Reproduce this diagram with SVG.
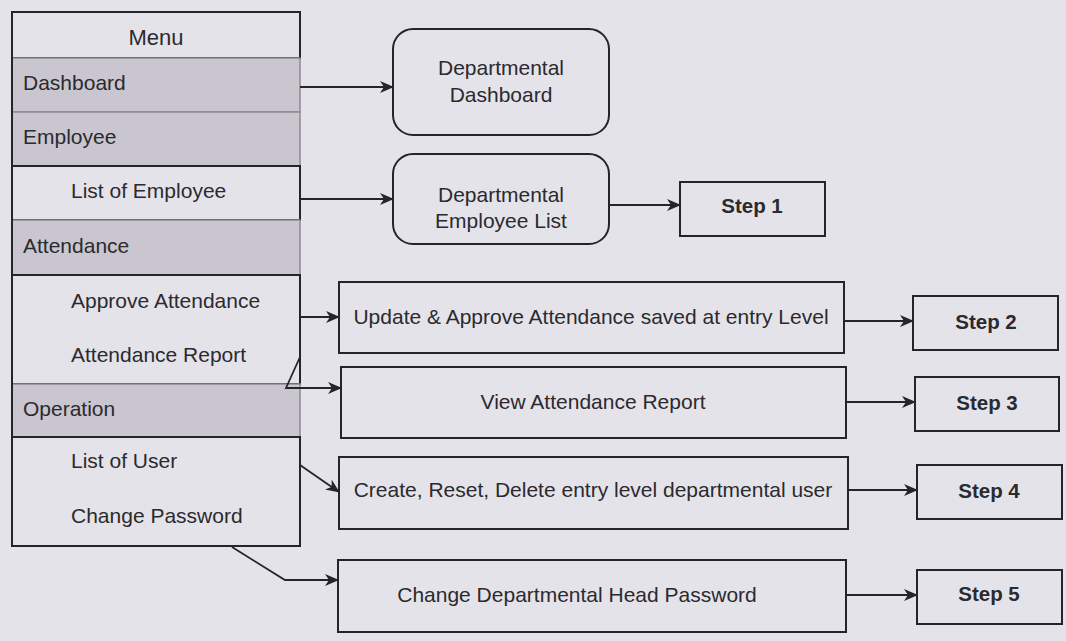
<svg xmlns="http://www.w3.org/2000/svg" width="1066" height="641" viewBox="0 0 1066 641">
  <style>
    .txt { font-family: "Liberation Sans", Arial, sans-serif; font-size: 21px; fill: #2b2a2e; }
    .mid { text-anchor: middle; }
    .step { font-family: "Liberation Sans", Arial, sans-serif; font-size: 20.5px; font-weight: bold; fill: #2b2a2e; text-anchor: middle; }
    .box { fill: none; stroke: #252428; stroke-width: 2; }
    .band { fill: #c9c6cf; stroke: #8d8a93; stroke-width: 1.5; }
    .plain { fill: none; stroke: #252428; stroke-width: 2; }
    .wire { fill: none; stroke: #252428; stroke-width: 1.8; marker-end: url(#head); }
  </style>
  <defs>
    <marker id="head" viewBox="0 0 14 12" refX="13" refY="6" markerWidth="14" markerHeight="12" markerUnits="userSpaceOnUse" orient="auto">
      <path d="M0,0 L14,6 L0,12 L4,6 Z" fill="#252428"/>
    </marker>
  </defs>

  <!-- paper -->
  <rect x="0" y="0" width="1066" height="641" fill="#e5e3ea"/>

  <!-- side menu -->
  <g id="menu">
    <rect class="plain" x="12" y="12" width="288" height="46"/>
    <text class="txt mid" x="156" y="45" style="font-size:22px">Menu</text>

    <rect class="band" x="12" y="58" width="288" height="54"/>
    <text class="txt" x="23" y="90">Dashboard</text>

    <rect class="band" x="12" y="112" width="288" height="54"/>
    <text class="txt" x="23" y="144">Employee</text>

    <rect class="plain" x="12" y="166" width="288" height="54"/>
    <text class="txt" x="71" y="198">List of Employee</text>

    <rect class="band" x="12" y="220" width="288" height="55"/>
    <text class="txt" x="23" y="253">Attendance</text>

    <rect class="plain" x="12" y="275" width="288" height="109"/>
    <text class="txt" x="71" y="308">Approve Attendance</text>
    <text class="txt" x="71" y="362">Attendance Report</text>

    <rect class="band" x="12" y="384" width="288" height="53"/>
    <text class="txt" x="23" y="416">Operation</text>

    <rect class="plain" x="12" y="437" width="288" height="109"/>
    <text class="txt" x="71" y="468">List of User</text>
    <text class="txt" x="71" y="523">Change Password</text>

    <line x1="12" y1="12" x2="12" y2="546" stroke="#252428" stroke-width="2"/>
  </g>

  <!-- screens -->
  <g id="dept-dashboard">
    <rect class="box" x="393" y="29" width="216" height="106" rx="20" ry="20"/>
    <text class="txt mid" x="501" y="75">Departmental</text>
    <text class="txt mid" x="501" y="102">Dashboard</text>
  </g>

  <g id="dept-employee-list">
    <rect class="box" x="393" y="154" width="216" height="90" rx="20" ry="20"/>
    <text class="txt mid" x="501" y="202">Departmental</text>
    <text class="txt mid" x="501" y="228">Employee List</text>
  </g>

  <g id="update-attendance">
    <rect class="box" x="339" y="282" width="505" height="71"/>
    <text class="txt mid" x="591" y="324">Update &amp; Approve Attendance saved at entry Level</text>
  </g>

  <g id="view-attendance">
    <rect class="box" x="341" y="367" width="505" height="71"/>
    <text class="txt mid" x="593" y="409">View Attendance Report</text>
  </g>

  <g id="manage-users">
    <rect class="box" x="339" y="457" width="509" height="72"/>
    <text class="txt mid" x="593" y="497">Create, Reset, Delete entry level departmental user</text>
  </g>

  <g id="head-password">
    <rect class="box" x="338" y="560" width="508" height="72"/>
    <text class="txt mid" x="577" y="602">Change Departmental Head Password</text>
  </g>

  <!-- steps -->
  <g id="step1">
    <rect class="box" x="680" y="182" width="145" height="54"/>
    <text class="step" x="752" y="213">Step 1</text>
  </g>
  <g id="step2">
    <rect class="box" x="913" y="296" width="145" height="54"/>
    <text class="step" x="986" y="329">Step 2</text>
  </g>
  <g id="step3">
    <rect class="box" x="915" y="377" width="144" height="54"/>
    <text class="step" x="987" y="410">Step 3</text>
  </g>
  <g id="step4">
    <rect class="box" x="917" y="465" width="145" height="54"/>
    <text class="step" x="989" y="498">Step 4</text>
  </g>
  <g id="step5">
    <rect class="box" x="917" y="570" width="145" height="54"/>
    <text class="step" x="989" y="601">Step 5</text>
  </g>

  <!-- connectors -->
  <g id="connectors">
    <path class="wire" d="M300,87 L393,87"/>
    <path class="wire" d="M300,199 L393,199"/>
    <path class="wire" d="M609,205 L680,205"/>
    <path class="wire" d="M300,317 L339,317"/>
    <path class="wire" d="M844,321 L913,321"/>
    <path class="wire" d="M300,357 L286,388 L341,388"/>
    <path class="wire" d="M846,402 L915,402"/>
    <path class="wire" d="M300,465 L339,492"/>
    <path class="wire" d="M848,490 L917,490"/>
    <path class="wire" d="M232,547 L285,580 L338,580"/>
    <path class="wire" d="M846,595 L917,595"/>
  </g>
</svg>
